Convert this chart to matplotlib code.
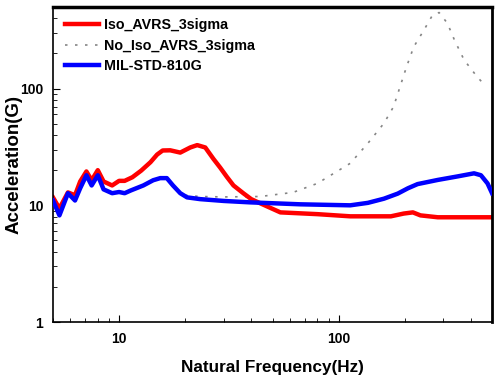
import matplotlib
matplotlib.use('Agg')
from matplotlib import pyplot as plt

plt.rcParams['font.family'] = ['Liberation Sans', 'DejaVu Sans']
plt.rcParams['font.weight'] = 'bold'

# Iso_AVRS_3sigma
iso_f = [5.0, 5.35, 5.85, 6.3, 6.65, 7.1, 7.5, 8.0, 8.5, 9.3, 10.0, 10.6, 11.5, 12.6,
         13.9, 14.9, 15.8, 17.1, 19.0, 21.1, 22.7, 24.7, 26.9, 28.9, 31.0, 33.2, 36.8,
         40.0, 44.0, 54.3, 80.2, 113, 173, 198, 218, 236, 283, 500]
iso_g = [11.7, 9.4, 12.9, 12.2, 16, 19.5, 16.4, 20, 16, 14.8, 16.2, 16.2, 17.4, 19.8,
         23.4, 27.2, 29.5, 29.6, 28.3, 31.3, 32.8, 31.3, 25.0, 21.0, 17.5, 14.8, 12.7,
         11.3, 10.4, 8.7, 8.4, 8.05, 8.05, 8.5, 8.7, 8.2, 7.9, 7.9]

# No_Iso_AVRS_3sigma
noiso_f = [20, 23.4, 30, 44, 62, 80, 113, 136, 161, 178, 204, 220, 245, 268, 287,
           313, 337, 373, 428, 470]
noiso_g = [12.2, 11.9, 11.8, 11.9, 12.9, 15.4, 22.9, 34, 50.5, 70, 154, 228, 318, 427, 448,
           363, 261, 176, 126, 104]

# MIL-STD-810G
mil_f = [5.0, 5.35, 5.85, 6.3, 6.65, 7.1, 7.5, 8.0, 8.5, 9.3, 10.0, 10.6, 11.3, 12.9,
         14.3, 15.4, 16.5, 17.6, 19.0, 20.4, 23.4, 30, 39.6, 67, 113, 136, 161, 186,
         207, 229, 283, 349, 414, 445, 477, 500]
mil_g = [11, 8.2, 12.7, 11, 14, 18.1, 14.8, 18.1, 13.7, 12.7, 13.0, 12.7, 13.4, 14.8,
         16.4, 17.1, 17.1, 14.8, 12.7, 11.7, 11.3, 10.9, 10.6, 10.2, 10, 10.5, 11.4, 12.6,
         14.0, 15.2, 16.5, 17.7, 18.8, 18.1, 15.4, 12.7]

fig = plt.figure(figsize=(4.97, 3.78), dpi=100)
ax = fig.add_axes([0.1066, 0.148, 0.8834, 0.8335])

ax.plot(noiso_f, noiso_g, color='#858585', lw=1.2, linestyle=(0, (1.5, 4.5)),
        label='No_Iso_AVRS_3sigma', zorder=1)
ax.plot(iso_f, iso_g, color='#ff0000', lw=3.2, label='Iso_AVRS_3sigma', zorder=2)
ax.plot(mil_f, mil_g, color='#0000ff', lw=3.2, label='MIL-STD-810G', zorder=3)

ax.set_xscale('log')
ax.set_yscale('log')
ax.set_xlim(5, 500)
ax.set_ylim(1, 500)
ax.set_xticks([10, 100])
ax.set_xticklabels(['10', '100'])
ax.set_yticks([1, 10, 100])
ax.set_yticklabels(['1', '10', '100'])
ax.tick_params(which='both', direction='in', top=False, right=False, labelsize=10, pad=7)
ax.tick_params(which='major', length=5)
ax.tick_params(which='minor', length=3)
for s in ax.spines.values():
    s.set_linewidth(1.2)
ax.spines['top'].set_linewidth(2.5)
ax.spines['right'].set_linewidth(2.0)

ax.set_xlabel('Natural Frequency(Hz)', fontsize=12.3, fontweight='bold', labelpad=10)
ax.set_ylabel('Acceleration(G)', fontsize=13.5, fontweight='bold', labelpad=-2)

h, l = ax.get_legend_handles_labels()
order = [1, 0, 2]
ax.legend([h[i] for i in order], [l[i] for i in order], loc='upper left', frameon=False,
          bbox_to_anchor=(0.0146, 0.983), borderaxespad=0,
          handlelength=2.4, handletextpad=0.3, labelspacing=0.45,
          prop={'weight': 'bold', 'size': 10.3})

plt.savefig('out.png', dpi=100)
